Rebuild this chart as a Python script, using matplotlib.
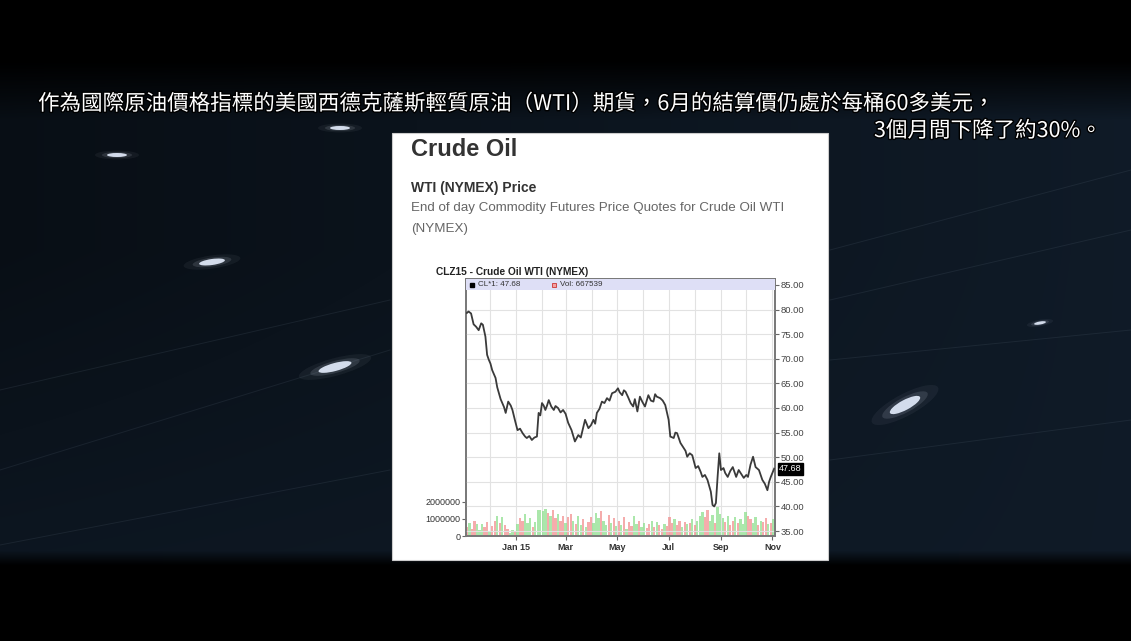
import numpy as np
import pandas as pd
import matplotlib
matplotlib.use("Agg")
import matplotlib.pyplot as plt
import matplotlib.dates as mdates
import matplotlib.patheffects as pe
from matplotlib.patches import Rectangle, Ellipse

W, H = 1131, 641

# caption text (video subtitle)
caption_1 = "作為國際原油價格指標的美國西德克薩斯輕質原油（WTI）期貨，6月的結算價仍處於每桶60多美元，"
caption_2 = "3個月間下降了約30%。"

# CLZ15 closing prices
price_dates = [
    "2014-11-04", "2014-11-06", "2014-11-09", "2014-11-12", "2014-11-15", "2014-11-18",
    "2014-11-21", "2014-11-23", "2014-11-26", "2014-11-28", "2014-11-30", "2014-12-02",
    "2014-12-04", "2014-12-08", "2014-12-10", "2014-12-12", "2014-12-14", "2014-12-16",
    "2014-12-18", "2014-12-20", "2014-12-22", "2014-12-23", "2014-12-26", "2014-12-28",
    "2014-12-31", "2015-01-03", "2015-01-06", "2015-01-09", "2015-01-12", "2015-01-14",
    "2015-01-17", "2015-01-20", "2015-01-23", "2015-01-26", "2015-01-28", "2015-01-30",
    "2015-02-01", "2015-02-03", "2015-02-05", "2015-02-07", "2015-02-09", "2015-02-12",
    "2015-02-15", "2015-02-17", "2015-02-20", "2015-02-23", "2015-02-26", "2015-03-01",
    "2015-03-04", "2015-03-08", "2015-03-12", "2015-03-16", "2015-03-19", "2015-03-22",
    "2015-03-24", "2015-03-28", "2015-03-31", "2015-04-03", "2015-04-05", "2015-04-07",
    "2015-04-10", "2015-04-13", "2015-04-16", "2015-04-19", "2015-04-22", "2015-04-25",
    "2015-04-29", "2015-05-02", "2015-05-04", "2015-05-07", "2015-05-09", "2015-05-11",
    "2015-05-14", "2015-05-17", "2015-05-20", "2015-05-22", "2015-05-25", "2015-05-28",
    "2015-05-31", "2015-06-03", "2015-06-07", "2015-06-10", "2015-06-13", "2015-06-15",
    "2015-06-17", "2015-06-21", "2015-06-24", "2015-06-27", "2015-07-01", "2015-07-03",
    "2015-07-07", "2015-07-09", "2015-07-11", "2015-07-15", "2015-07-18", "2015-07-21",
    "2015-07-23", "2015-07-26", "2015-07-29", "2015-08-02", "2015-08-05", "2015-08-08",
    "2015-08-10", "2015-08-13", "2015-08-16", "2015-08-20", "2015-08-22", "2015-08-24",
    "2015-08-26", "2015-08-28", "2015-08-30", "2015-09-01", "2015-09-04", "2015-09-06",
    "2015-09-09", "2015-09-12", "2015-09-15", "2015-09-19", "2015-09-22", "2015-09-25",
    "2015-09-28", "2015-10-01", "2015-10-03", "2015-10-06", "2015-10-09", "2015-10-12",
    "2015-10-16", "2015-10-18", "2015-10-20", "2015-10-23", "2015-10-26", "2015-10-28",
    "2015-10-30", "2015-11-03",
]
price_values = [
    79.3, 79.6, 79.2, 77.0, 76.5, 75.8,
    77.2, 76.9, 74.5, 70.8, 69.8, 69.0,
    67.7, 66.1, 64.2, 63.0, 61.8, 61.0,
    60.2, 59.0, 60.6, 61.3, 60.5, 59.6,
    57.5, 55.5, 55.8, 54.9, 54.2, 53.9,
    54.3, 53.5, 54.0, 54.2, 59.0, 58.5,
    61.0, 60.5, 59.6, 60.5, 61.6, 60.3,
    59.6, 60.4, 60.0, 59.1, 59.6, 58.8,
    57.0, 55.5, 53.2, 54.5, 54.0, 56.2,
    57.6, 55.9, 56.5, 57.6, 56.8, 59.0,
    59.8, 61.3, 61.0, 62.0, 61.5, 63.0,
    63.3, 64.0, 63.2, 62.6, 63.6, 63.3,
    62.2, 61.0, 60.3, 61.8, 59.3, 62.3,
    61.2, 60.3, 62.6, 61.5, 61.3, 62.8,
    62.3, 62.0, 61.5, 60.6, 57.6, 54.2,
    53.9, 55.0, 54.9, 52.9, 52.1, 51.3,
    50.1, 50.8, 50.4, 47.8, 48.2, 47.0,
    46.0, 46.4, 45.4, 43.0, 40.3, 40.0,
    40.7, 46.0, 50.8, 47.4, 47.8, 46.8,
    46.0, 47.2, 48.0, 46.0, 47.4, 46.6,
    45.8, 46.4, 46.0, 48.5, 50.1, 48.0,
    47.4, 46.4, 45.4, 44.6, 43.3, 45.0,
    46.0, 47.68,
]

# volume bars (thousands of contracts), one bar every 3 days from vol_start
vol_start = "2014-11-04"
vol_thousands = [
    550, 780, 400, 900, 680, 330, 730, 500, 830, 260,
    590, 910, 1170, 780, 1100, 650, 400, 200, 330, 260,
    720, 1040, 910, 1300, 780, 1040, 520, 850, 1500, 1550,
    1450, 1600, 1350, 1170, 1500, 1040, 1300, 910, 1170, 780,
    1100, 1300, 910, 720, 1170, 650, 980, 520, 850, 1100,
    780, 1350, 1040, 1450, 910, 650, 1230, 780, 1040, 590,
    910, 650, 1100, 400, 850, 590, 1170, 720, 910, 520,
    780, 460, 720, 910, 520, 850, 650, 400, 720, 590,
    1100, 780, 980, 650, 910, 520, 850, 720, 780, 980,
    650, 910, 1170, 1400, 1100, 1500, 910, 1230, 780, 1700,
    1300, 1040, 850, 1170, 650, 910, 1100, 780, 980, 720,
    1400, 1170, 980, 780, 1100, 650, 910, 850, 1040, 720,
    780, 980,
]
vol_up = ("rgrrgggrrg" "rrgrgrrggr" "grrgggrggg" "ggrgrrgrrg" "rrgrggrgrr"
          "gggrggrgrg" "rgrgrrggrg" "grrgrgrrgr" "rrgrrgrgrg" "rgggrrggrg"
          "ggrgrrgrgg" "grrggrgrrg" "rg")

price_ticks = [35, 40, 45, 50, 55, 60, 65, 70, 75, 80, 85]
vol_ticks = [0, 1000000, 2000000]
month_ticks = ["2015-01-01", "2015-03-01", "2015-05-01", "2015-07-01", "2015-09-01", "2015-11-01"]
month_labels = ["Jan 15", "Mar", "May", "Jul", "Sep", "Nov"]
last_price = 47.68
last_volume = 667539

fig = plt.figure(figsize=(W / 100, H / 100), dpi=100)
fig.patch.set_facecolor("black")

# ---- background scene (dark tiled floor) ----
bg = fig.add_axes([0, 0, 1, 1])
bg.set_xlim(0, W)
bg.set_ylim(H, 0)
bg.axis("off")

yy, xx = np.mgrid[0:H, 0:W]
xf = xx / W
band = np.clip((yy - 60) / 60, 0, 1) * np.clip((565 - yy) / 15, 0, 1)
shade = 0.6 + 0.5 * xf + 0.3 * np.clip((yy - 250) / 300, 0, 1) * (1 - xf)
img = np.zeros((H, W, 3))
img[..., 0] = 0.055 * shade * band
img[..., 1] = 0.095 * shade * band
img[..., 2] = 0.14 * shade * band
bg.imshow(img, extent=(0, W, H, 0), aspect="auto", zorder=0)

# faint tile seams
for x0, y0, x1, y1 in [(0, 470, 390, 350), (0, 390, 390, 300), (0, 545, 390, 470),
                       (830, 300, 1131, 230), (830, 360, 1131, 330), (830, 460, 1131, 420),
                       (830, 250, 1131, 170)]:
    bg.plot([x0, x1], [y0, y1], color="#5a6a7a", lw=0.7, alpha=0.18, zorder=1)

# light spots
for cx, cy, w, h, a in [(117, 155, 20, 4, 0), (212, 262, 26, 6, -8), (340, 128, 20, 4, 0),
                        (335, 367, 34, 8, -15), (905, 405, 34, 10, -28), (1040, 323, 12, 3, -10)]:
    for k, al in [(2.2, 0.05), (1.5, 0.12), (1.0, 0.9)]:
        bg.add_patch(Ellipse((cx, cy), w * k, h * k, angle=a, color="#e6efff",
                             alpha=al, lw=0, zorder=2))

# caption
cap_font = ["Noto Sans CJK TC", "DejaVu Sans"]
stroke = [pe.withStroke(linewidth=2, foreground="black")]
bg.text(38, 104, caption_1, color="white", fontsize=15.5, family=cap_font,
        va="center", ha="left", path_effects=stroke, zorder=5)
bg.text(874, 131, caption_2, color="white", fontsize=15.5, family=cap_font,
        va="center", ha="left", path_effects=stroke, zorder=5)

# white web-page panel
bg.add_patch(Rectangle((392, 133), 436, 427, facecolor="white", edgecolor="#cccccc",
                       lw=0.8, zorder=3))
sans = "Liberation Sans"
bg.text(411, 150, "Crude Oil", fontsize=17, weight="bold", color="#333333",
        family=sans, va="center", zorder=4)
bg.text(411, 188, "WTI (NYMEX) Price", fontsize=10, weight="bold", color="#333333",
        family=sans, va="center", zorder=4)
bg.text(411, 208, "End of day Commodity Futures Price Quotes for Crude Oil WTI",
        fontsize=9.6, color="#666666", family=sans, va="center", zorder=4)
bg.text(411, 229, "(NYMEX)", fontsize=9.6, color="#666666", family=sans,
        va="center", zorder=4)
bg.text(436, 272, "CLZ15 - Crude Oil WTI (NYMEX)", fontsize=7.3, weight="bold",
        color="#222222", family=sans, va="center", zorder=4)

# ---- price / volume chart ----
left, right, top, bottom = 466, 775, 279, 536
ax = fig.add_axes([left / W, 1 - bottom / H, (right - left) / W, (bottom - top) / H])
ax.set_facecolor("white")

vol_dates = pd.date_range(vol_start, periods=len(vol_thousands), freq="3D")
vol = np.array(vol_thousands) * 1000
colors = ["#8fe08f" if c == "g" else "#f29090" for c in vol_up]
ax.bar(vol_dates, vol, width=2.7, color=colors, alpha=0.75, lw=0, zorder=2)
ax.set_ylim(0, 15.1e6)
ax.set_yticks(vol_ticks)
ax.set_yticklabels([str(v) for v in vol_ticks])

xmin, xmax = pd.Timestamp("2014-11-03"), pd.Timestamp("2015-11-04")
ax.set_xlim(xmin, xmax)
ax.set_xticks(pd.to_datetime(month_ticks))
ax.set_xticklabels(month_labels)
ax.xaxis.set_minor_locator(mdates.MonthLocator())
ax.grid(True, which="both", axis="x", color="#e2e2e2", lw=0.8, zorder=0)
ax.set_axisbelow(True)
ax.tick_params(axis="x", which="major", length=3, color="#666666", labelsize=6.5, pad=2)
ax.tick_params(axis="x", which="minor", length=0)
ax.tick_params(axis="y", length=3, color="#666666", labelsize=6.5, pad=1,
               labelcolor="#333333")
for lab in ax.get_xticklabels():
    lab.set_fontweight("bold")
    lab.set_family(sans)
    lab.set_color("#333333")
for lab in ax.get_yticklabels():
    lab.set_family(sans)

ax2 = ax.twinx()
ax2.plot(pd.to_datetime(price_dates), price_values, color="#3a3a3a", lw=1.3, zorder=4)
ax2.set_ylim(34.0, 86.2)
ax2.set_yticks(price_ticks)
ax2.set_yticklabels([f"{p:.2f}" for p in price_ticks])
ax2.grid(True, axis="y", color="#e2e2e2", lw=0.8, zorder=0)
ax2.tick_params(axis="y", length=3, color="#666666", labelsize=6.8, pad=1,
                labelcolor="#444444")
for lab in ax2.get_yticklabels():
    lab.set_family(sans)

for a in (ax, ax2):
    for s in a.spines.values():
        s.set_color("#777777")
        s.set_linewidth(1.2)

# header band with legend entries
ax2.add_patch(Rectangle((0, 0.957), 1, 0.043, transform=ax2.transAxes,
                        facecolor="#dedff6", edgecolor="none", zorder=3))
ax2.plot([0.02], [0.978], marker="s", ms=3.5, color="black", transform=ax2.transAxes,
         zorder=5, clip_on=False)
ax2.text(0.038, 0.978, f"CL*1: {last_price:.2f}", transform=ax2.transAxes,
         fontsize=5.8, family=sans, color="#333333", va="center", zorder=5)
ax2.plot([0.285], [0.978], marker="s", ms=3.5, mfc="#f4a0a0", mec="#cc3333", mew=0.6,
         transform=ax2.transAxes, zorder=5, clip_on=False)
ax2.text(0.303, 0.978, f"Vol: {last_volume}", transform=ax2.transAxes,
         fontsize=5.8, family=sans, color="#333333", va="center", zorder=5)

# last price marker on the right axis
ax2.annotate(f"{last_price:.2f}", xy=(1.0, last_price), xycoords=("axes fraction", "data"),
             xytext=(3, 0), textcoords="offset points", fontsize=6.5, family=sans,
             color="white", va="center", ha="left",
             bbox=dict(boxstyle="square,pad=0.15", fc="black", ec="black"), zorder=6)

fig.savefig("out.png", dpi=100, facecolor=fig.get_facecolor())
